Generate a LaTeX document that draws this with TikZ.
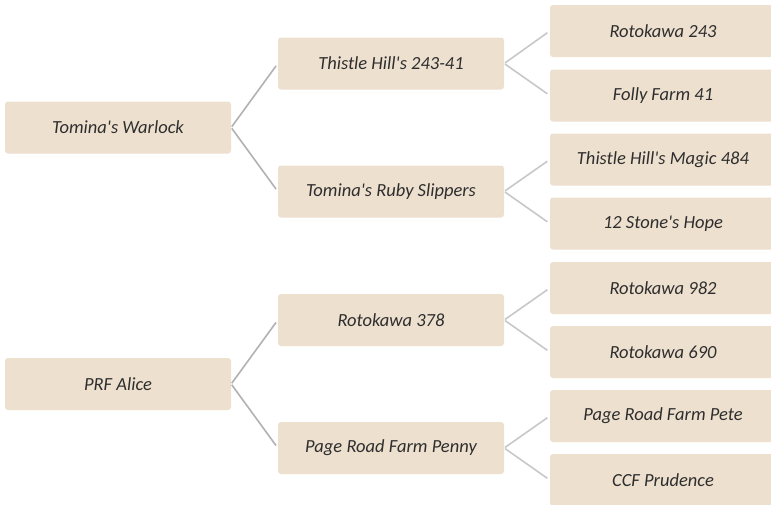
\documentclass[tikz,border=0pt]{standalone}
\usepackage{fontspec}
\setmainfont{Carlito}
\usepackage{tikz}
\usetikzlibrary{positioning}
\usepackage{xcolor}
\definecolor{boxfill}{HTML}{EDE0CF}
\definecolor{textgrey}{HTML}{2E2E2E}
\definecolor{linkdark}{HTML}{B2B2B2}
\definecolor{linklight}{HTML}{C8C8C8}
\newcommand{\ap}{\textquotesingle}
\tikzset{
  horse/.style={fill=boxfill, rounded corners=3pt, minimum width=226pt, minimum height=52pt,
    inner sep=0pt, text=textgrey, font=\fontsize{18.5}{21}\selectfont\itshape},
  sirelink/.style={draw=linkdark, line width=1.6pt, shorten <=1pt, shorten >=3pt},
  damlink/.style={draw=linklight, line width=1.6pt, shorten <=1pt, shorten >=3pt}
}

\begin{document}
\begin{tikzpicture}[x=1pt,y=-1pt]
\clip (0,0) rectangle (771,504);
\fill[white] (0,0) rectangle (771,504);
% roots
\node[horse] (warlock) at (118,127.5) {Tomina\ap s Warlock};
\node[horse] (alice) at (118,384) {PRF Alice};
% parents
\node[horse] (thistle) at (391,63.5) {Thistle Hill\ap s 243-41};
\node[horse] (ruby) at (391,191.5) {Tomina\ap s Ruby Slippers};
\node[horse] (roto378) at (391,320) {Rotokawa 378};
\node[horse] (penny) at (391,448) {Page Road Farm Penny};
% grandparents
\node[horse] (roto243) at (663,31) {Rotokawa 243};
\node[horse] (folly) at (663,95.5) {Folly Farm 41};
\node[horse] (magic) at (663,159.5) {Thistle Hill\ap s Magic 484};
\node[horse] (stone) at (663,223.5) {12 Stone\ap s Hope};
\node[horse] (roto982) at (663,288) {Rotokawa 982};
\node[horse] (roto690) at (663,352) {Rotokawa 690};
\node[horse] (pete) at (663,416) {Page Road Farm Pete};
\node[horse] (prudence) at (663,480) {CCF Prudence};
% links
\foreach \a/\b in {warlock/thistle,warlock/ruby,alice/roto378,alice/penny}
  \draw[sirelink] (\a.east)--(\b.west);
\foreach \a/\b in {thistle/roto243,thistle/folly,ruby/magic,ruby/stone,
                   roto378/roto982,roto378/roto690,penny/pete,penny/prudence}
  \draw[damlink] (\a.east)--(\b.west);
\end{tikzpicture}
\end{document}
